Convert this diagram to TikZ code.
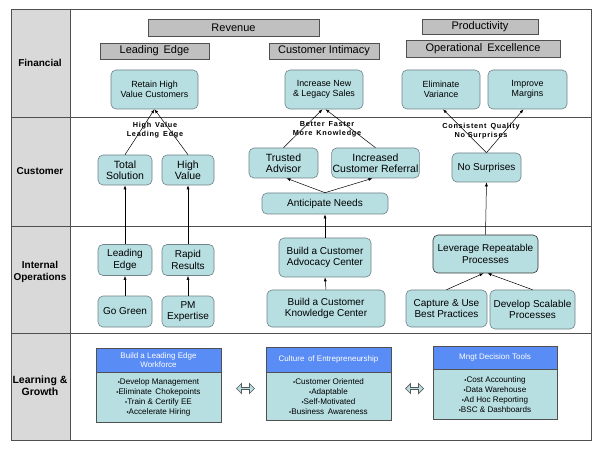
\documentclass[tikz,border=0pt]{standalone}
\usepackage{fontspec}
\setmainfont{Liberation Sans}
\newfontfamily\labfont[LetterSpace=10]{Liberation Sans}
\usetikzlibrary{arrows.meta,shapes.arrows,calc}
\definecolor{boxfill}{RGB}{183,222,225}
\definecolor{boxline}{RGB}{110,130,135}
\definecolor{hdrblue}{RGB}{90,140,245}
\definecolor{hdgray}{RGB}{192,192,192}
\definecolor{colgray}{RGB}{217,217,217}
\definecolor{frame}{RGB}{80,80,80}
\tikzset{
  bx/.style={draw=boxline, fill=boxfill, rounded corners=5pt, align=center, font=\fontsize{10}{11.5}\selectfont, inner sep=1pt, line width=0.6pt},
  hd/.style={draw=frame, fill=hdgray, align=center, font=\fontsize{11}{12}\selectfont, inner sep=0pt, line width=0.6pt},
  rowlab/.style={align=center, font=\bfseries\fontsize{10}{12}\selectfont},
  lab/.style={align=center, font=\labfont\bfseries\fontsize{7.3}{9}\selectfont, inner sep=0pt},
  arr/.style={-{Latex[length=4pt,width=3pt]}, line width=0.5pt},
  lhead/.style={draw=frame, fill=hdrblue, text=white, align=center, font=\fontsize{8}{9.5}\selectfont, inner sep=0pt, line width=0.6pt},
  lbody/.style={draw=frame, fill=boxfill, align=center, font=\fontsize{8.1}{10}\selectfont, inner sep=0pt, line width=0.6pt},
  dbl/.style={double arrow, draw=black!65, fill=boxfill, minimum height=18pt, minimum width=10pt, double arrow head extend=1.5pt, inner sep=0pt, line width=0.7pt}
}
\newcommand{\bul}{\raisebox{0.25ex}{\scalebox{0.5}{$\bullet$}}}
\begin{document}
\begin{tikzpicture}[x=1pt,y=-1pt]
\useasboundingbox (0,0) rectangle (600,449);
% frame and rows
\fill[colgray] (11,9) rectangle (70,440);
\draw[frame, line width=0.9pt] (11,9) rectangle (591,440);
\draw[frame, line width=0.9pt] (70,9) -- (70,440);
\foreach \yy in {117,226,333} \draw[frame, line width=0.9pt] (11,\yy) -- (591,\yy);
\node[rowlab] (rl1) at (40,63) {Financial};
\node[rowlab] (rl2) at (40,171) {Customer};
\node[rowlab] (rl3) at (40,272) {Internal\\Operations};
\node[rowlab, font=\bfseries\fontsize{10.5}{12}\selectfont] (rl4) at (40,386) {Learning \&\\Growth};

% headings
\node[hd, minimum width=171pt, minimum height=17pt] (rev) at (233.5,27.5) {Revenue};
\node[hd, minimum width=109pt, minimum height=16pt] (le) at (154.5,51) {Leading \,Edge};
\node[hd, minimum width=110pt, minimum height=16pt] (ci) at (324,51) {Customer Intimacy};
\node[hd, minimum width=116pt, minimum height=15pt] (prod) at (480,26.5) {Productivity};
\node[hd, minimum width=154pt, minimum height=17pt] (oe) at (483,48.5) {Operational \,Excellence};

% financial
\node[bx, font=\fontsize{8.9}{10.5}\selectfont, minimum width=87pt, minimum height=39pt] (retain) at (154.5,89.5) {Retain High\\Value Customers};
\node[bx, font=\fontsize{8.9}{10.5}\selectfont, minimum width=78pt, minimum height=39pt] (incr) at (324,89.5) {Increase New\\\& Legacy Sales};
\node[bx, font=\fontsize{8.9}{10.5}\selectfont, minimum width=78pt, minimum height=39pt] (elim) at (441,89.5) {Eliminate\\Variance};
\node[bx, font=\fontsize{8.9}{10.5}\selectfont, minimum width=79pt, minimum height=39pt] (impr) at (527.5,89.5) {Improve\\Margins};

% customer
\node[bx, minimum width=54pt, minimum height=30pt, font=\fontsize{10.5}{11.5}\selectfont] (tot) at (125,170) {Total\\Solution};
\node[bx, minimum width=52pt, minimum height=30pt, font=\fontsize{10.5}{11.5}\selectfont] (hv) at (188,170) {High\\Value};
\node[bx, minimum width=69pt, minimum height=30pt, font=\fontsize{10.5}{11.5}\selectfont] (trust) at (283.5,163) {Trusted\\Advisor};
\node[bx, minimum width=87pt, minimum height=30pt, font=\fontsize{10.5}{11.5}\selectfont] (incref) at (375.5,163) {Increased\\Customer Referral};
\node[bx, minimum width=126pt, minimum height=21pt] (antic) at (325,203.5) {Anticipate Needs};
\node[bx, minimum width=69pt, minimum height=29pt] (nosur) at (486.5,167.5) {No Surprises};
\node[lab] (l1) at (155,130.5) {High \,Value\\Leading \,Edge};
\node[lab] (l2) at (327,129.5) {Better \,Faster\\More \,Knowledge};
\node[lab] (l3) at (481,131) {Consistent \,Quality\\No Surprises};

% internal
\node[bx, minimum width=54pt, minimum height=31pt] (ledge) at (125,260) {Leading\\Edge};
\node[bx, minimum width=52pt, minimum height=31pt] (rapid) at (188,260) {Rapid\\Results};
\node[bx, minimum width=54pt, minimum height=31pt] (green) at (125,311.5) {Go Green};
\node[bx, minimum width=52pt, minimum height=31pt] (pm) at (188,311.5) {PM\\Expertise};
\node[bx, minimum width=92pt, minimum height=39pt] (adv) at (325,257.5) {Build a Customer\\Advocacy Center};
\node[bx, minimum width=118pt, minimum height=37pt] (know) at (326,308.5) {Build a Customer\\Knowledge Center};
\node[bx, draw=black!80, minimum width=105pt, minimum height=38pt] (lev) at (485.5,254) {Leverage Repeatable\\Processes};
\node[bx, minimum width=81pt, minimum height=37pt] (capt) at (446.5,308.5) {Capture \& Use\\Best Practices};
\node[bx, minimum width=85pt, minimum height=39pt] (dev) at (532.5,309.5) {Develop Scalable\\Processes};

% learning
\node[lhead, minimum width=125pt, minimum height=24pt] (h1) at (158.5,360) {Build a Leading Edge\\Workforce};
\node[lbody, minimum width=125pt, minimum height=50pt, anchor=north] (b1) at (h1.south) {\bul Develop Management\\\bul Eliminate \,Chokepoints\\\bul Train \& Certify EE\\\bul Accelerate Hiring};
\node[lhead, minimum width=125pt, minimum height=25pt] (h2) at (328.5,359.5) {Culture \,of Entrepreneurship};
\node[lbody, minimum width=125pt, minimum height=48pt, anchor=north] (b2) at (h2.south) {\bul Customer Oriented\\\bul Adaptable\\\bul Self-Motivated\\\bul Business \,Awareness};
\node[lhead, minimum width=124pt, minimum height=23pt] (h3) at (495,357.5) {Mngt Decision Tools};
\node[lbody, minimum width=124pt, minimum height=50pt, anchor=north] (b3) at (h3.south) {\bul Cost Accounting\\\bul Data Warehouse\\\bul Ad Hoc Reporting\\\bul BSC \& Dashboards};
\node[dbl] (d1) at (245.5,388.5) {};
\node[dbl] (d2) at (414.5,388.5) {};

% arrows
\draw[arr] (tot.north) -- (retain.south);
\draw[arr] (hv.north) -- (retain.south);
\draw[arr] (trust.north) -- ($(incr.south)+(-1.5,0)$);
\draw[arr] (incref.north) -- ($(incr.south)+(1.5,0)$);
\draw[arr] (nosur.north) -- ($(elim.south)+(2,0)$);
\draw[arr] (nosur.north) -- ($(impr.south)+(-4,0)$);
\draw[arr] (antic.north) -- ($(trust.south)+(3,0)$);
\draw[arr] (antic.north) -- ($(incref.south)+(-3,0)$);
\draw[arr] (ledge.north) -- (tot.south);
\draw[arr] (rapid.north) -- (hv.south);
\draw[arr] (green.north) -- (ledge.south);
\draw[arr] (pm.north) -- (rapid.south);
\draw[arr] (know.north) -- (adv.south);
\draw[arr] (adv.north) -- (antic.south);
\draw[arr] (lev.north) -- (nosur.south);
\draw[arr] (capt.north) -- ($(lev.south)+(-2,0)$);
\draw[arr] (dev.north) -- ($(lev.south)+(2,0)$);
\end{tikzpicture}
\end{document}
